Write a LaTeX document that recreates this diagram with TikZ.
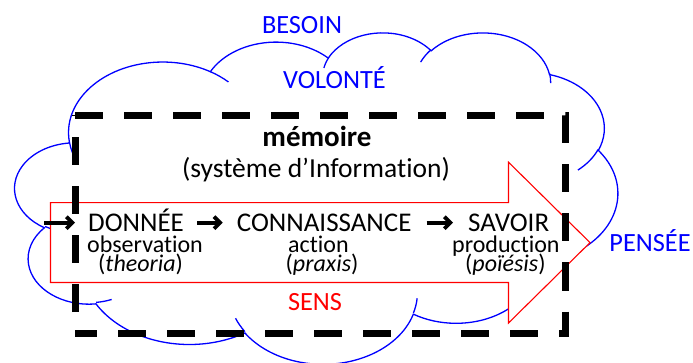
\documentclass[tikz,border=0pt]{standalone}
\usepackage{fontspec}
\setmainfont{Carlito}[Ligatures=NoCommon]
\usetikzlibrary{arrows.meta}
\definecolor{cblue}{RGB}{0,0,255}
\definecolor{cred}{RGB}{255,0,0}
\makeatletter
\pgfmathdeclarefunction{vtp}{3}{%
  \begingroup
    \pgfmathsetmacro\vtpd{atan2((#1)*sin(#3),(#2)*cos(#3))-(#3)}%
    \pgfmathsetmacro\vtpd{\vtpd-360*round(\vtpd/360)}%
    \pgfmathparse{#3+(\vtpd)}%
    \pgfmath@smuggleone\pgfmathresult
  \endgroup}
\makeatother
\newcommand\oa[4]{arc[x radius=#1pt,y radius=#2pt,start angle={vtp(#1,#2,#3)},end angle={vtp(#1,#2,#3+#4)}]}
\tikzset{
  cloudline/.style={draw=cblue, line width=1.3pt},
  sensarrow/.style={draw=cred, fill=white, line width=1.1pt, line join=miter},
  memo/.style={draw=black, line width=7pt, dash pattern=on 28pt off 21pt, line cap=butt, line join=miter},
  toptxt/.style={inner sep=0pt, anchor=base, font=\fontsize{26.3}{30}\selectfont},
  rowmain/.style={inner sep=0pt, anchor=base west, text height=18pt, text depth=0pt, font=\fontsize{27}{30}\selectfont},
  rowsub/.style={inner sep=0pt, anchor=base west, text height=12pt, text depth=3pt, font=\fontsize{24}{26}\selectfont},
  flow/.style={draw=black, line width=3.8pt, -{Straight Barb[length=6pt,width=12pt]}},
}
\begin{document}
\begin{tikzpicture}[x=1pt,y=-1pt]
\useasboundingbox (0,0) rectangle (693,363);
% cloud
\begin{scope}[shift={(15,31.8)},xscale=13.95,yscale=-7.67]
\path[cloudline, fill=white] (3.9pt,14.37pt)
  \oa{6.753}{9.19}{-190.4875}{123.7805}
  \oa{5.333}{7.267}{-144.1024}{89.9452}
  \oa{4.365}{5.945}{-145.8079}{99.7230}
  \oa{4.857}{6.595}{-130.9861}{117.2417}
  \oa{5.333}{7.273}{-78.7089}{109.0269}
  \oa{6.775}{9.22}{-46.2673}{130.2690}
  \oa{5.785}{7.867}{0.6250}{114.0333}
  \oa{6.752}{9.215}{22.4516}{115.1726}
  \oa{7.72}{10.543}{66.2426}{75.7110}
  \oa{4.36}{5.918}{-274.9421}{146.7356}
  \oa{4.345}{5.945}{-246.8285}{152.5189}
  -- cycle;
\path[cloudline]
  (4.693pt,26.177pt) \oa{4.345}{5.945}{86.742}{26.4295}
  (6.928pt,34.899pt) \oa{4.36}{5.918}{73.6105}{11.4475}
  (16.478pt,39.09pt) \oa{6.752}{9.215}{137.6242}{14.0811}
  (28.827pt,34.751pt) \oa{6.752}{9.215}{6.4533}{15.9984}
  (34.129pt,22.954pt) \oa{5.785}{7.867}{-70.2924}{70.9174}
  (41.798pt,15.354pt) \oa{5.333}{7.273}{30.3180}{27.7515}
  (38.324pt,5.426pt) \oa{4.857}{6.595}{-13.7443}{14.8589}
  (29.078pt,3.952pt) \oa{4.857}{6.595}{-149.1815}{18.1954}
  (22.141pt,4.72pt) \oa{4.365}{5.945}{-163.4943}{17.6864}
  (14.0pt,5.192pt) \oa{6.753}{9.19}{-66.7070}{12.3194}
  (4.127pt,15.789pt) \oa{6.753}{9.19}{157.6544}{11.8582};
\end{scope}
% big red arrow
\path[sensarrow] (50.5,202.7) -- (508.5,202.7) -- (508.5,162.2) -- (590,242.6)
  -- (508.5,323) -- (508.5,282.5) -- (50.5,282.5) -- cycle;
% dashed memory frame
\path[memo] (75,115.5) -- (565,115.5) -- (565,333) -- (75,333);
\path[memo, dash phase=28pt] (75,333) -- (75,115.5);
% texts
\node[toptxt, text=cblue] (besoin) at (302,33.3) {BESOIN};
\node[toptxt, text=cblue] (volonte) at (334.5,88.3) {VOLONTÉ};
\node[toptxt, font=\fontsize{29}{32}\selectfont\bfseries] (memoire) at (317,146.7) {mémoire};
\node[toptxt, font=\fontsize{27.5}{30}\selectfont] (sysinfo) at (316,178) {(système d’Information)};
\node[rowmain] (donnee) at (88,231.7) {DONNÉE};
\node[rowsub] (obs) at (87,253) {observation};
\node[rowsub] (theo) at (98,272) {(\textit{theoria})};
\node[rowmain] (conn) at (236.7,231.7) {CONNAISSANCE};
\node[rowsub] (action) at (288,253) {action};
\node[rowsub] (praxis) at (285.5,272) {(\textit{praxis})};
\node[rowmain] (savoir) at (468,231.7) {SAVOIR};
\node[rowsub] (prod) at (452,253) {production};
\node[rowsub] (poiesis) at (465,272) {(\textit{poïésis})};
\node[toptxt, text=cred] (sens) at (315,310) {SENS};
\node[toptxt, text=cblue] (pensee) at (650,252) {PENSÉE};
% flow arrows
\coordinate (in) at (44,222.7);
\draw[flow] (in) -- ([xshift=-13pt]donnee.west);
\draw[flow] ([xshift=13pt]donnee.east) -- ([xshift=-14pt]conn.west);
\draw[flow] ([xshift=15pt]conn.east) -- ([xshift=-15pt]savoir.west);
\end{tikzpicture}
\end{document}
